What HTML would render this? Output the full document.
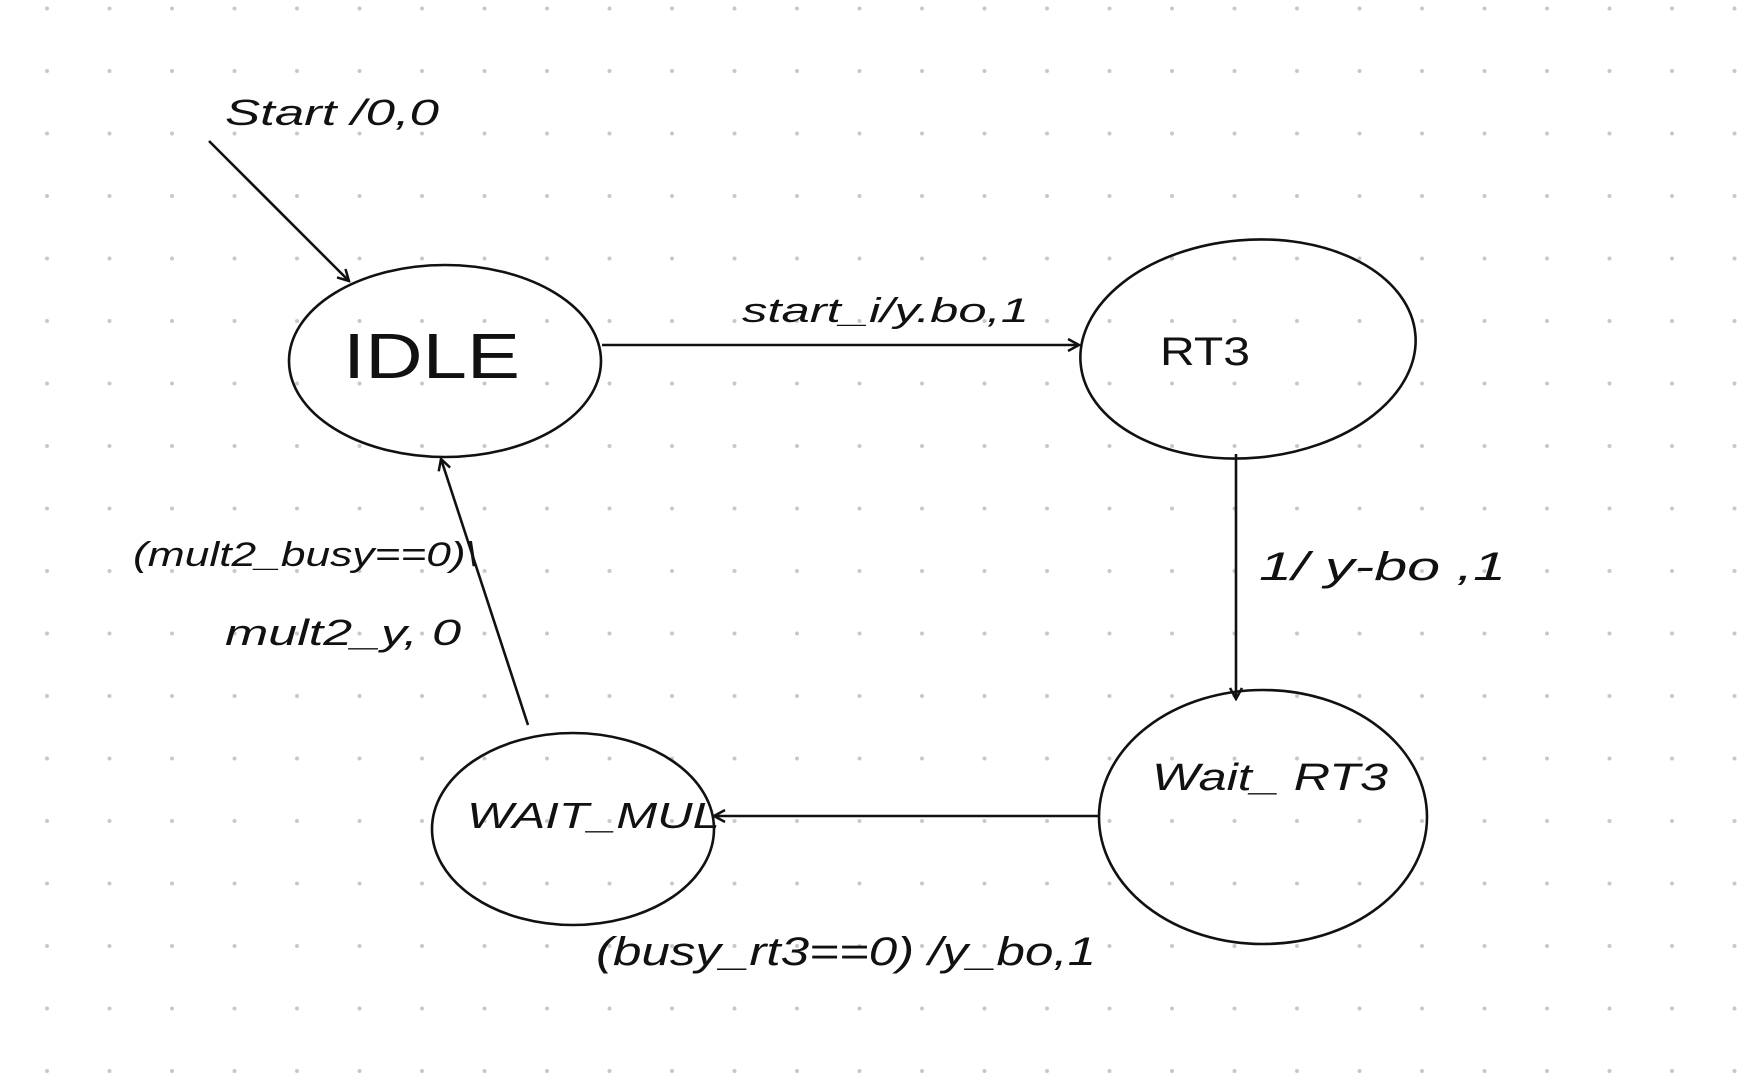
<!DOCTYPE html>
<html><head><meta charset="utf-8"><style>
html,body{margin:0;padding:0;background:#fff;}
svg{display:block}
text{font-family:"Liberation Sans",sans-serif;fill:#111;font-style:italic}
</style></head><body>
<svg width="1763" height="1081" viewBox="0 0 1763 1081" xmlns="http://www.w3.org/2000/svg">
<defs>
<pattern id="dots" x="16" y="40" width="62.5" height="62.5" patternUnits="userSpaceOnUse">
<circle cx="31" cy="31" r="2" fill="#c8c8c8"/>
</pattern>
<marker id="ah" markerWidth="14" markerHeight="14" refX="12" refY="7" orient="auto" markerUnits="userSpaceOnUse">
<path d="M1,1 L12,7 L1,13" fill="none" stroke="#111" stroke-width="2.5"/>
</marker>
</defs>
<rect width="1763" height="1081" fill="url(#dots)"/>
<g fill="none" stroke="#111" stroke-width="2.6">
<ellipse cx="445" cy="361" rx="156" ry="96"/>
<ellipse cx="1248" cy="349" rx="168" ry="109" transform="rotate(-5 1248 349)"/>
<ellipse cx="1263" cy="817" rx="164" ry="127"/>
<ellipse cx="573" cy="829" rx="141" ry="96"/>
<line x1="209" y1="141" x2="349" y2="281" marker-end="url(#ah)"/>
<line x1="602" y1="345" x2="1079" y2="345" marker-end="url(#ah)"/>
<line x1="1236" y1="454" x2="1236" y2="699" marker-end="url(#ah)"/>
<line x1="1100" y1="816" x2="714" y2="816" marker-end="url(#ah)"/>
<line x1="528" y1="725" x2="441" y2="459" marker-end="url(#ah)"/>
</g>
<text x="225" y="125" font-size="36" textLength="214" lengthAdjust="spacingAndGlyphs">Start /0,0</text>
<text x="343" y="378" font-size="64" style="font-style:normal" textLength="177" lengthAdjust="spacingAndGlyphs">IDLE</text>
<text x="742" y="322" font-size="34" textLength="287" lengthAdjust="spacingAndGlyphs">start_i/y.bo,1</text>
<text x="1160" y="365" font-size="40" style="font-style:normal" textLength="90" lengthAdjust="spacingAndGlyphs">RT3</text>
<text x="1259" y="580" font-size="40" textLength="247" lengthAdjust="spacingAndGlyphs">1/ y-bo ,1</text>
<text x="1152" y="790" font-size="38" textLength="236" lengthAdjust="spacingAndGlyphs">Wait_ RT3</text>
<text x="467" y="828" font-size="36" textLength="253" lengthAdjust="spacingAndGlyphs">WAIT_MUL</text>
<text x="133" y="566" font-size="34" textLength="345" lengthAdjust="spacingAndGlyphs">(mult2_busy==0)\</text>
<text x="225" y="645" font-size="36" textLength="236" lengthAdjust="spacingAndGlyphs">mult2_y, 0</text>
<text x="596" y="965" font-size="40" textLength="500" lengthAdjust="spacingAndGlyphs">(busy_rt3==0) /y_bo,1</text>
</svg>
</body></html>
